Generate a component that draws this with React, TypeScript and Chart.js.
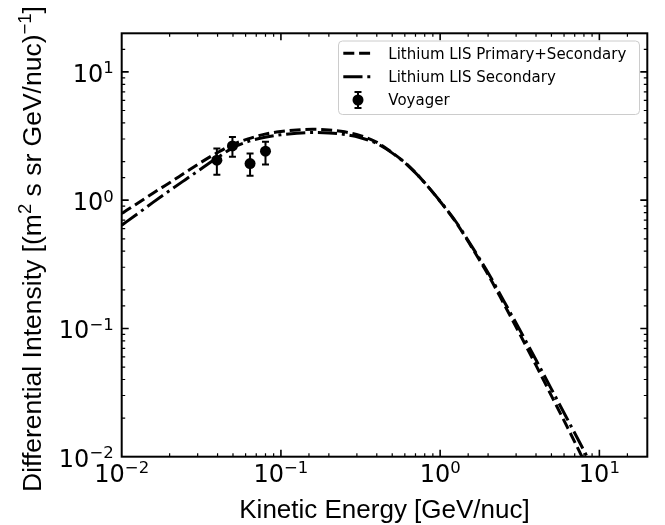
import React, { useEffect, useRef } from "react";
import { Chart, registerables } from "chart.js";

Chart.register(...registerables);

// ---------------- data ----------------
const energyGrid = [
  0.01, 0.0126, 0.0158, 0.02, 0.0251, 0.0316, 0.0398, 0.0501, 0.0631, 0.0794,
  0.1, 0.126, 0.158, 0.2, 0.251, 0.316, 0.398, 0.501, 0.631, 0.794,
  1, 1.26, 1.58, 2.0, 2.51, 3.16, 3.98, 5.01, 6.31, 7.94, 10,
];
const primarySecondary = [
  0.787, 0.946, 1.138, 1.368, 1.644, 1.977, 2.344, 2.723, 3.02, 3.273,
  3.428, 3.532, 3.573, 3.532, 3.412, 3.184, 2.838, 2.344, 1.862, 1.38,
  0.977, 0.668, 0.4285, 0.263, 0.156, 0.0908, 0.0522, 0.0297, 0.0169, 0.0095, 0.00535,
];
const secondaryOnly = [
  0.638, 0.785, 0.966, 1.189, 1.445, 1.758, 2.138, 2.57, 2.884, 3.09,
  3.236, 3.327, 3.365, 3.342, 3.251, 3.069, 2.773, 2.328, 1.854, 1.38,
  0.982, 0.676, 0.4365, 0.272, 0.164, 0.0977, 0.0575, 0.0335, 0.0195, 0.01135, 0.00653,
];
const voyagerEnergy = [0.0396, 0.0496, 0.064, 0.08];
const voyagerFlux = [2.05, 2.65, 1.93, 2.41];
const voyagerLow = [1.58, 2.18, 1.55, 1.9];
const voyagerHigh = [2.53, 3.11, 2.31, 2.85];

const seriesLabels = [
  "Lithium LIS Primary+Secondary",
  "Lithium LIS Secondary",
  "Voyager",
];
const majorTickValues = [0.01, 0.1, 1, 10];
const majorTickExponents = ["\u22122", "\u22121", "0", "1"];
const xTitle = "Kinetic Energy [GeV/nuc]";
const yTitleParts = [
  { t: "Differential Intensity [(m", sup: false },
  { t: "2", sup: true },
  { t: " s sr GeV/nuc)", sup: false },
  { t: "\u22121", sup: true },
  { t: "]", sup: false },
];

// ---------------- styles ----------------
const LINE_W = 3;
const DASHED = [11, 4.8];
const DASHDOT = [19.2, 4.8, 3, 4.8];
const TICK_FS = 24;
const SUP_FS = 16.5;
const SUP_RAISE = 8.5;
const LABEL_FS = 26;
const YLABEL_FS = 26.5;
const LABEL_SUP_FS = 18.5;
const LEGEND_FS = 15;

function isMajor(v: number) {
  const l = Math.log10(v);
  return Math.abs(l - Math.round(l)) < 1e-6;
}

function drawPow(
  ctx: CanvasRenderingContext2D,
  exp: string,
  x: number,
  baseline: number,
  align: "center" | "right"
) {
  const baseFont = `${TICK_FS}px "DejaVu Sans"`;
  const supFont = `${SUP_FS}px "DejaVu Sans"`;
  ctx.font = baseFont;
  const wb = ctx.measureText("10").width;
  ctx.font = supFont;
  const we = ctx.measureText(exp).width;
  const total = wb + we;
  const x0 = align === "center" ? x - total / 2 : x - total;
  ctx.textAlign = "left";
  ctx.textBaseline = "alphabetic";
  ctx.fillStyle = "#000";
  ctx.font = baseFont;
  ctx.fillText("10", x0, baseline);
  ctx.font = supFont;
  ctx.fillText(exp, x0 + wb, baseline - SUP_RAISE);
}

function scaleTicks(scale: any): number[] {
  const t = (scale.ticks || []).map((k: any) => k.value);
  if (t.length) return t;
  const out: number[] = [];
  for (let e = -2; e <= 1; e++) for (let m = 1; m <= 9; m++) out.push(m * Math.pow(10, e));
  return out;
}

const mplPlugin = {
  id: "mplAxes",
  afterDatasetsDraw(chart: any) {
    const { ctx, scales } = chart;
    const xs = scales.x;
    const ys = scales.y;
    ctx.save();
    ctx.strokeStyle = "#000";
    ctx.lineWidth = 2;
    ctx.setLineDash([]);
    voyagerEnergy.forEach((e, i) => {
      const px = xs.getPixelForValue(e);
      const lo = ys.getPixelForValue(voyagerLow[i]);
      const hi = ys.getPixelForValue(voyagerHigh[i]);
      ctx.beginPath();
      ctx.moveTo(px, lo);
      ctx.lineTo(px, hi);
      ctx.moveTo(px - 3.5, lo);
      ctx.lineTo(px + 3.5, lo);
      ctx.moveTo(px - 3.5, hi);
      ctx.lineTo(px + 3.5, hi);
      ctx.stroke();
    });
    ctx.restore();
  },
  afterDraw(chart: any) {
    const { ctx, chartArea: a, scales } = chart;
    const xs = scales.x;
    const ys = scales.y;
    ctx.save();
    ctx.setLineDash([]);
    ctx.strokeStyle = "#000";

    scaleTicks(xs).forEach((v) => {
      const px = xs.getPixelForValue(v);
      if (px < a.left + 1 || px > a.right - 1) return;
      const maj = isMajor(v);
      const len = maj ? 7 : 3.5;
      ctx.lineWidth = maj ? 1.6 : 1.2;
      ctx.beginPath();
      ctx.moveTo(px, a.bottom);
      ctx.lineTo(px, a.bottom - len);
      ctx.moveTo(px, a.top);
      ctx.lineTo(px, a.top + len);
      ctx.stroke();
    });
    scaleTicks(ys).forEach((v) => {
      const py = ys.getPixelForValue(v);
      if (py < a.top + 1 || py > a.bottom - 1) return;
      const maj = isMajor(v);
      const len = maj ? 7 : 3.5;
      ctx.lineWidth = maj ? 1.6 : 1.2;
      ctx.beginPath();
      ctx.moveTo(a.left, py);
      ctx.lineTo(a.left + len, py);
      ctx.moveTo(a.right, py);
      ctx.lineTo(a.right - len, py);
      ctx.stroke();
    });

    ctx.lineWidth = 2;
    ctx.strokeRect(a.left, a.top, a.right - a.left, a.bottom - a.top);

    majorTickValues.forEach((v, i) => {
      const px = xs.getPixelForValue(v);
      drawPow(ctx, majorTickExponents[i], px, a.bottom + 25, "center");
      const py = ys.getPixelForValue(v);
      drawPow(ctx, majorTickExponents[i], a.left - 8, py + 10, "right");
    });

    ctx.fillStyle = "#000";
    ctx.font = `${LABEL_FS}px "Liberation Sans"`;
    ctx.textAlign = "center";
    ctx.textBaseline = "alphabetic";
    ctx.fillText(xTitle, (a.left + a.right) / 2, 518);

    ctx.save();
    const cy = (a.top + a.bottom) / 2 + 4;
    ctx.translate(41, cy);
    ctx.rotate(-Math.PI / 2);
    let total = 0;
    const widths = yTitleParts.map((p) => {
      ctx.font = `${p.sup ? LABEL_SUP_FS : YLABEL_FS}px "Liberation Sans"`;
      const w = ctx.measureText(p.t).width;
      total += w;
      return w;
    });
    let cx = -total / 2;
    ctx.textAlign = "left";
    yTitleParts.forEach((p, i) => {
      ctx.font = `${p.sup ? LABEL_SUP_FS : YLABEL_FS}px "Liberation Sans"`;
      ctx.fillText(p.t, cx, p.sup ? -10 : 0);
      cx += widths[i];
    });
    ctx.restore();

    const lx0 = 338.5,
      ly0 = 41,
      lx1 = 639.5,
      ly1 = 114.5;
    ctx.beginPath();
    const r = 4;
    ctx.moveTo(lx0 + r, ly0);
    ctx.lineTo(lx1 - r, ly0);
    ctx.arcTo(lx1, ly0, lx1, ly0 + r, r);
    ctx.lineTo(lx1, ly1 - r);
    ctx.arcTo(lx1, ly1, lx1 - r, ly1, r);
    ctx.lineTo(lx0 + r, ly1);
    ctx.arcTo(lx0, ly1, lx0, ly1 - r, r);
    ctx.lineTo(lx0, ly0 + r);
    ctx.arcTo(lx0, ly0, lx0 + r, ly0, r);
    ctx.closePath();
    ctx.fillStyle = "rgba(255,255,255,0.8)";
    ctx.fill();
    ctx.strokeStyle = "#cccccc";
    ctx.lineWidth = 1;
    ctx.stroke();

    const rows = [53.3, 76.7, 100];
    const hx0 = 343.3,
      hx1 = 372.7;
    ctx.strokeStyle = "#000";
    ctx.lineWidth = LINE_W;
    ctx.lineCap = "butt";
    [DASHED, DASHDOT].forEach((d, i) => {
      ctx.setLineDash(d);
      ctx.beginPath();
      ctx.moveTo(hx0, rows[i]);
      ctx.lineTo(hx1, rows[i]);
      ctx.stroke();
    });
    ctx.setLineDash([]);
    const mx = (hx0 + hx1) / 2;
    ctx.lineWidth = 2;
    ctx.beginPath();
    ctx.moveTo(mx, rows[2] - 8);
    ctx.lineTo(mx, rows[2] + 8);
    ctx.moveTo(mx - 3.5, rows[2] - 8);
    ctx.lineTo(mx + 3.5, rows[2] - 8);
    ctx.moveTo(mx - 3.5, rows[2] + 8);
    ctx.lineTo(mx + 3.5, rows[2] + 8);
    ctx.stroke();
    ctx.beginPath();
    ctx.arc(mx, rows[2], 5.5, 0, Math.PI * 2);
    ctx.fillStyle = "#000";
    ctx.fill();

    ctx.font = `${LEGEND_FS}px "DejaVu Sans"`;
    ctx.textAlign = "left";
    ctx.textBaseline = "alphabetic";
    seriesLabels.forEach((s, i) => {
      ctx.fillText(s, 388.3, rows[i] + 5.4);
    });
    ctx.restore();
  },
};

export default function App() {
  const ref = useRef<HTMLCanvasElement | null>(null);
  useEffect(() => {
    if (!ref.current) return;
    const chart = new Chart(ref.current, {
      type: "scatter",
      data: {
        datasets: [
          {
            label: seriesLabels[0],
            data: energyGrid.map((x, i) => ({ x, y: primarySecondary[i] })),
            showLine: true,
            borderColor: "#000",
            borderWidth: LINE_W,
            borderDash: DASHED,
            pointRadius: 0,
            cubicInterpolationMode: "monotone",
            fill: false,
          },
          {
            label: seriesLabels[1],
            data: energyGrid.map((x, i) => ({ x, y: secondaryOnly[i] })),
            showLine: true,
            borderColor: "#000",
            borderWidth: LINE_W,
            borderDash: DASHDOT,
            pointRadius: 0,
            cubicInterpolationMode: "monotone",
            fill: false,
          },
          {
            label: seriesLabels[2],
            data: voyagerEnergy.map((x, i) => ({ x, y: voyagerFlux[i] })),
            showLine: false,
            pointRadius: 5.5,
            pointBackgroundColor: "#000",
            pointBorderColor: "#000",
            pointBorderWidth: 0,
          },
        ],
      },
      options: {
        animation: false,
        responsive: false,
        devicePixelRatio: 1,
        layout: { padding: { left: 121.7, right: 17.7, top: 33.3, bottom: 68.3 } },
        plugins: {
          legend: { display: false },
          tooltip: { enabled: false },
          title: { display: false },
        },
        scales: {
          x: {
            type: "logarithmic",
            min: 0.01,
            max: 20,
            display: false,
            ticks: { autoSkip: false },
          },
          y: {
            type: "logarithmic",
            min: 0.01,
            max: 20,
            display: false,
            ticks: { autoSkip: false },
          },
        },
      } as any,
      plugins: [mplPlugin],
    });
    return () => chart.destroy();
  }, []);
  return (
    <div
      style={{
        position: "absolute",
        left: 0,
        top: 0,
        width: 665,
        height: 525,
        background: "#fff",
      }}
    >
      <canvas ref={ref} width={665} height={525} style={{ display: "block" }} />
    </div>
  );
}
